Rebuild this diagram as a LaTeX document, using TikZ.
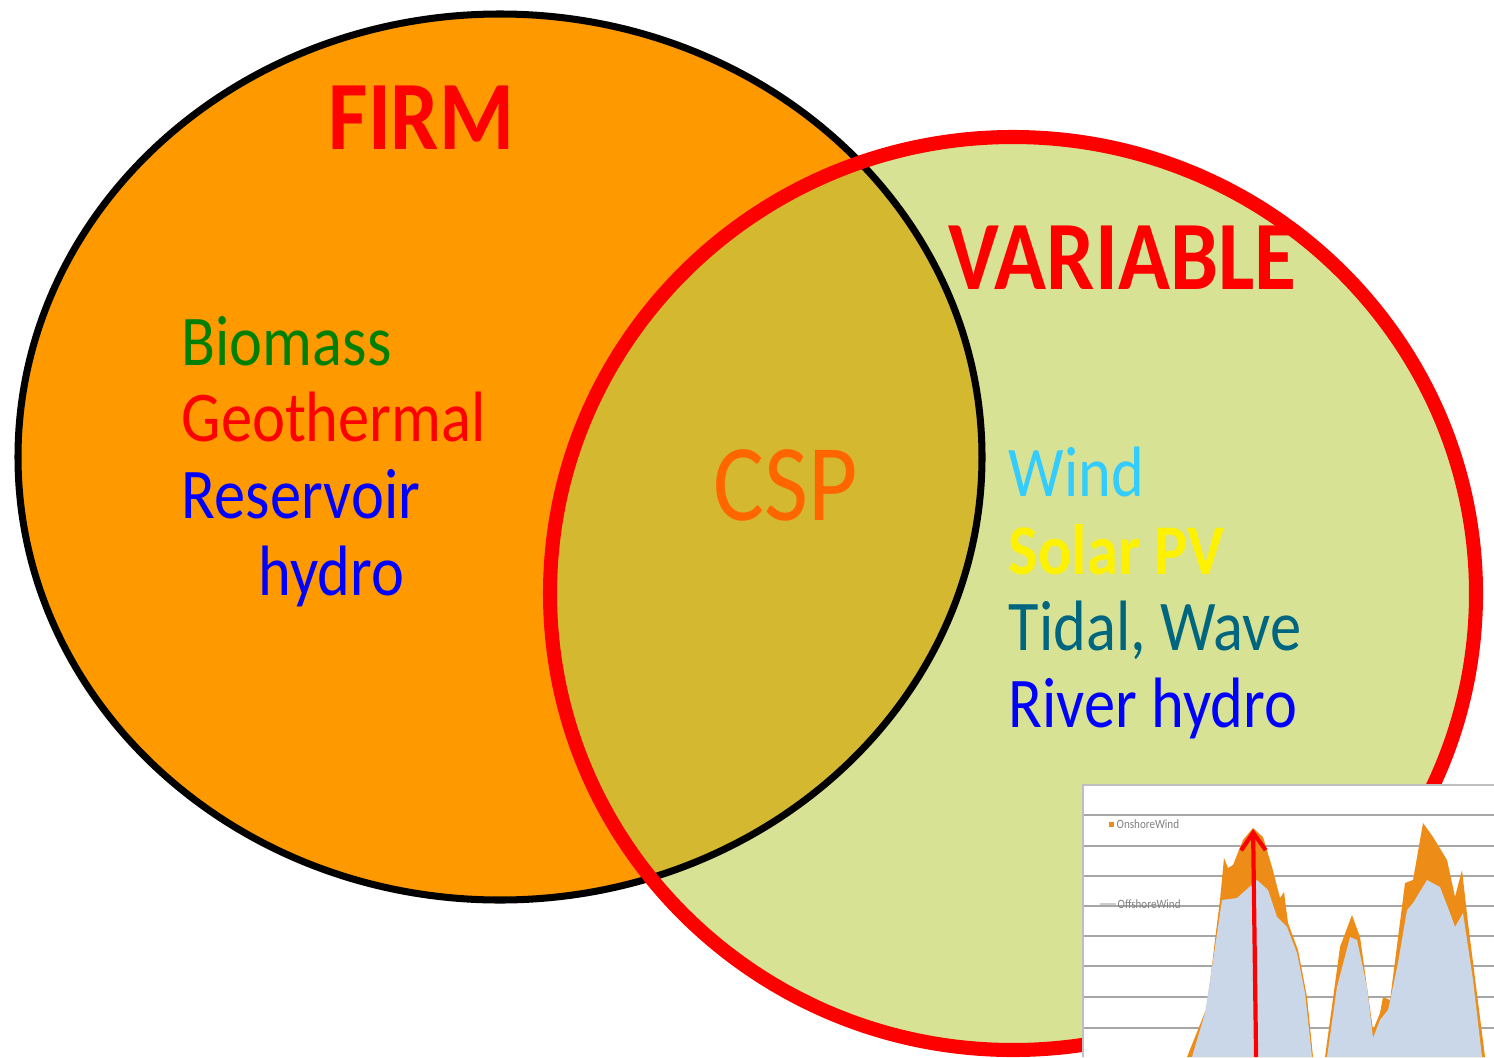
\documentclass[tikz,border=0pt]{standalone}
\usepackage{xcolor}
\usepackage{fontspec}
\setmainfont{Carlito}[FakeStretch=0.875]
\usepackage{tikz}
\usetikzlibrary{arrows.meta}

\definecolor{firmfill}{RGB}{255,153,0}
\definecolor{varfill}{RGB}{215,226,149}
\definecolor{bothfill}{RGB}{212,185,48}
\definecolor{biogreen}{RGB}{0,128,0}
\definecolor{windblue}{RGB}{51,204,255}
\definecolor{tidalteal}{RGB}{0,102,128}
\definecolor{cspor}{RGB}{255,102,0}
\definecolor{onshoreor}{RGB}{238,140,24}
\definecolor{offshorebl}{RGB}{202,215,232}
\definecolor{gridgray}{RGB}{166,166,166}

\begin{document}
\begin{tikzpicture}[scale=0.1]
\tikzstyle{every node}+=[inner sep=0pt]
\tikzstyle{item}=[anchor=base west, font=\fontsize{20.3}{24}\selectfont]
\tikzstyle{title}=[anchor=base west, text=red, font=\fontsize{27.9}{32}\selectfont\bfseries]
\tikzstyle{legend}=[anchor=west, text=gray, font=\fontsize{3.6}{5}\selectfont]
\useasboundingbox (0,0) rectangle (149.4,-105.7);
% the two sets
\fill [varfill] (101.3,-59.35) ellipse (46.3 and 45.65);
\fill [firmfill] (50.0,-45.7) ellipse (48.2 and 44.3);
\begin{scope}
\clip (50.0,-45.7) ellipse (48.2 and 44.3);
\fill [bothfill] (101.3,-59.35) ellipse (46.3 and 45.65);
\end{scope}
\draw [black, line width=2pt] (50.0,-45.7) ellipse (48.2 and 44.3);
\draw [red, line width=4pt] (101.3,-59.35) ellipse (46.3 and 45.65);
% labels
\draw (32.8,-14.93) node [title] (firm) {FIRM};
\draw (94.8,-28.9) node [title] (variable) {VARIABLE};
\draw (18.1,-36.5) node [item, text=biogreen] (biomass) {Biomass};
\draw (18.1,-44.17) node [item, text=red] (geothermal) {Geothermal};
\draw (18.1,-51.8) node [item, text=blue] (reservoir) {Reservoir};
\draw (25.8,-59.5) node [item, text=blue] (hydro) {hydro};
\draw (71.3,-52.07) node [anchor=base west, text=cspor, font=\fontsize{31.1}{36}\selectfont] (csp) {CSP};
\draw (100.8,-49.67) node [item, text=windblue] (wind) {Wind};
\draw (100.8,-57.4) node [item, text=yellow, font=\fontsize{20.3}{24}\selectfont\bfseries] (solar) {Solar PV};
\draw (100.8,-65.0) node [item, text=tidalteal] (tidal) {Tidal, Wave};
\draw (100.8,-72.7) node [item, text=blue] (river) {River hydro};
% wind output chart
\fill [white] (108.3,-78.5) rectangle (149.4,-105.7);
\begin{scope}
\clip (108.3,-78.5) rectangle (149.4,-105.7);
\foreach \y in {81.5,84.6,87.6,90.6,93.6,96.6,99.7,102.8}
  \draw [gridgray, line width=0.6pt] (108.3,-\y) -- (149.4,-\y);
\fill [onshoreor] (118.7,-105.7) -- (120.7,-100.7) -- (121.5,-94.0) -- (122.0,-90.0) -- (122.4,-85.8) -- (122.8,-86.8) -- (123.3,-86.5) -- (124.3,-84.0) -- (125.3,-82.8) -- (126.3,-83.7) -- (127.2,-86.7) -- (128.0,-89.8) -- (128.4,-89.2) -- (128.8,-92.3) -- (129.8,-95.0) -- (130.7,-99.7) -- (131.3,-105.7) -- cycle;
\fill [onshoreor] (132.5,-105.7) -- (134.0,-94.7) -- (135.2,-91.5) -- (136.0,-93.7) -- (137.3,-103.0) -- (138.0,-101.3) -- (138.3,-99.7) -- (139.0,-100.0) -- (140.5,-88.3) -- (141.3,-88.0) -- (142.3,-82.3) -- (143.3,-83.7) -- (144.7,-86.0) -- (145.5,-89.7) -- (146.2,-87.0) -- (146.8,-92.3) -- (148.5,-105.7) -- cycle;
\fill [offshorebl] (119.2,-105.7) -- (120.5,-101.3) -- (121.5,-94.7) -- (122.2,-90.0) -- (123.7,-89.8) -- (125.7,-88.0) -- (126.8,-89.0) -- (127.7,-91.7) -- (128.7,-92.7) -- (129.7,-95.3) -- (130.5,-99.3) -- (131.2,-105.7) -- cycle;
\fill [offshorebl] (132.7,-105.7) -- (133.7,-98.7) -- (135.0,-93.7) -- (135.7,-94.0) -- (136.7,-98.7) -- (137.3,-103.8) -- (138.0,-102.0) -- (138.8,-101.0) -- (139.8,-96.3) -- (140.7,-91.0) -- (141.3,-90.3) -- (142.7,-88.0) -- (144.0,-88.7) -- (145.0,-91.3) -- (145.5,-92.7) -- (146.3,-91.3) -- (147.3,-98.0) -- (148.2,-105.7) -- cycle;
\end{scope}
\draw [gray!50, line width=0.6pt] (149.4,-78.5) -- (108.3,-78.5) -- (108.3,-105.7);
% legend
\fill [onshoreor] (110.9,-82.2) rectangle (111.4,-82.7);
\draw (111.6,-82.45) node [legend] (onshore) {OnshoreWind};
\draw [gray!40, line width=0.8pt] (110.0,-90.4) -- (111.6,-90.4);
\draw (111.7,-90.4) node [legend] (offshore) {OffshoreWind};
% peak marker
\coordinate (arrowfoot) at (125.6,-105.7);
\coordinate (peak) at (125.3,-82.9);
\draw [red, line width=1.2pt, -{Straight Barb[length=5pt,width=7pt]}] (arrowfoot) -- (peak);

\end{tikzpicture}
\end{document}
